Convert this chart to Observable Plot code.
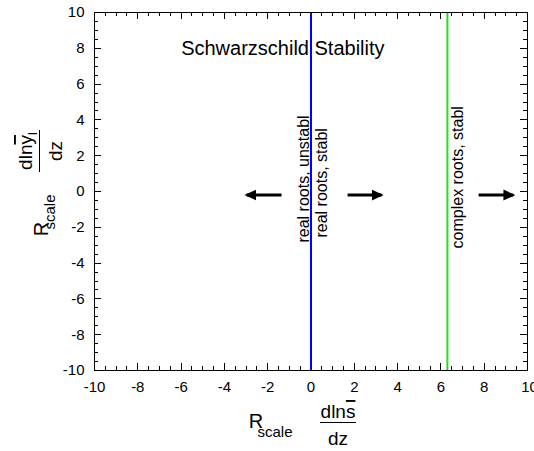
<!DOCTYPE html>
<html><head><meta charset="utf-8">
<script src="https://cdn.jsdelivr.net/npm/d3@7"></script>
<script src="https://cdn.jsdelivr.net/npm/@observablehq/plot@0.6"></script>
<style>
body{margin:0;background:#fff;overflow:hidden;}
#chart svg{display:block;}
</style>
</head><body><div id="chart"></div>
<script>
// ---- data ----
const xDomain = [-10, 10];
const yDomain = [-10, 10];
const majorTicks = [-10, -8, -6, -4, -2, 0, 2, 4, 6, 8, 10];
const minorTicks = d3.range(-10, 10.001, 0.5);
const boundaryX = [0, 6.3];
const boundaryColors = ["#0000ff", "#22dd22"];
const arrowX1 = [-1.36, 1.69, 7.74];
const arrowX2 = [-2.98, 3.26, 9.35];
const arrowY = [-0.2, -0.2, -0.2];
const regionTexts = ["real roots, unstabl", "real roots, stabl", "complex roots, stabl"];
const regionX = [-0.09, 0.72, 7.04];
const regionY = [-2.85, -2.57, -3.18];
const titleText = ["Schwarzschild Stability"];
const titleX = -1.3, titleY = 7.65;

const FONT = "'Liberation Sans', Arial, Helvetica, sans-serif";
const W = 534, H = 451, ML = 94, MR = 7, MT = 12, MB = 81;
const FW = W - ML - MR, FH = H - MT - MB;
const MAJ = 7, MIN = 4;

const filledArrow = (color) => d3.create("svg:marker")
  .attr("viewBox", "0 -6 12 12")
  .attr("markerUnits", "userSpaceOnUse")
  .attr("markerWidth", 12).attr("markerHeight", 12)
  .attr("refX", 10).attr("refY", 0)
  .attr("orient", "auto")
  .call(m => m.append("path").attr("d", "M0,-5.5L12,0L0,5.5Z").attr("fill", color).attr("stroke", "none"))
  .node();

const arrows = arrowX1.map((x1, i) => ({x1, x2: arrowX2[i], y: arrowY[i]}));
const regions = regionTexts.map((t, i) => ({t, x: regionX[i], y: regionY[i]}));
const fmt = d => String(d);
const tk = {stroke: "black", strokeWidth: 1, shapeRendering: "crispEdges"};

const plot = Plot.plot({
  width: W, height: H,
  marginLeft: ML, marginRight: MR, marginTop: MT, marginBottom: MB,
  style: {fontFamily: FONT, fontSize: "15px", background: "white", color: "black", overflow: "visible"},
  x: {domain: xDomain},
  y: {domain: yDomain},
  marks: [
    // inward ticks on all four sides
    Plot.ruleX(minorTicks, {x: d => d, insetTop: FH - MIN, ...tk}),
    Plot.ruleX(minorTicks, {x: d => d, insetBottom: FH - MIN, ...tk}),
    Plot.ruleY(minorTicks, {y: d => d, insetRight: FW - MIN, ...tk}),
    Plot.ruleY(minorTicks, {y: d => d, insetLeft: FW - MIN, ...tk}),
    Plot.ruleX(majorTicks, {x: d => d, insetTop: FH - MAJ, ...tk}),
    Plot.ruleX(majorTicks, {x: d => d, insetBottom: FH - MAJ, ...tk}),
    Plot.ruleY(majorTicks, {y: d => d, insetRight: FW - MAJ, ...tk}),
    Plot.ruleY(majorTicks, {y: d => d, insetLeft: FW - MAJ, ...tk}),
    Plot.axisX(majorTicks.slice(0, -1), {anchor: "bottom", tickSize: 0, tickPadding: 11, tickFormat: fmt, label: null, fontSize: 15}),
    Plot.axisX(majorTicks.slice(-1), {anchor: "bottom", tickSize: 0, tickPadding: 11, tickFormat: fmt, label: null, fontSize: 15, dx: 2}),
    Plot.axisY(majorTicks, {anchor: "left", tickSize: 0, tickPadding: 10, tickFormat: fmt, label: null, fontSize: 15}),
    Plot.ruleX([boundaryX[0]], {x: d => d, y1: yDomain[0], y2: yDomain[1], stroke: boundaryColors[0], strokeWidth: 2}),
    Plot.ruleX([boundaryX[1]], {x: d => d, y1: yDomain[0], y2: yDomain[1], stroke: boundaryColors[1], strokeWidth: 2}),
    Plot.frame({stroke: "black", strokeWidth: 1}),
    Plot.link(arrows, {x1: "x1", x2: "x2", y1: "y", y2: "y", stroke: "black", strokeWidth: 3, markerEnd: filledArrow}),
    Plot.text(regions, {x: "x", y: "y", text: "t", rotate: -90, textAnchor: "start", lineAnchor: "bottom", fontSize: 16, fill: "black"}),
    Plot.text(titleText, {x: titleX, y: titleY, text: d => d, textAnchor: "middle", lineAnchor: "bottom", fontSize: 20, fill: "black"})
  ]
});

const svg = d3.select(plot);
// x axis label: R_scale (dln s̄ / dz)
const xl = svg.append("g").attr("font-family", FONT).attr("fill", "black");
xl.append("text").attr("x", 256).attr("y", 428).attr("font-size", 20).text("R");
xl.append("text").attr("x", 275).attr("y", 437).attr("font-size", 15).text("scale");
const xn = xl.append("text").attr("x", 338).attr("y", 418).attr("font-size", 19).attr("text-anchor", "middle");
xn.append("tspan").text("dln");
xn.append("tspan").attr("text-decoration", "overline").style("text-decoration", "overline").text("s");
xl.append("line").attr("x1", 320).attr("x2", 356).attr("y1", 422.5).attr("y2", 422.5).attr("stroke", "black").attr("stroke-width", 1);
xl.append("text").attr("x", 338).attr("y", 445).attr("font-size", 19).attr("text-anchor", "middle").text("dz");

// y axis label (rotated): R_scale (dln ȳ_l / dz)
const yl = svg.append("g").attr("font-family", FONT).attr("fill", "black").attr("transform", "rotate(-90)");
yl.append("text").attr("x", -229).attr("y", 48).attr("font-size", 20).text("R");
yl.append("text").attr("x", -212).attr("y", 55).attr("font-size", 15).text("scale");
const yn = yl.append("text").attr("x", -151).attr("y", 32).attr("font-size", 19).attr("text-anchor", "middle");
yn.append("tspan").text("dln");
yn.append("tspan").attr("text-decoration", "overline").style("text-decoration", "overline").text("y");
yn.append("tspan").attr("font-size", 13).attr("dy", 5).text("l");
yl.append("line").attr("x1", -172).attr("x2", -130).attr("y1", 39.5).attr("y2", 39.5).attr("stroke", "black").attr("stroke-width", 1);
yl.append("text").attr("x", -151).attr("y", 62).attr("font-size", 19).attr("text-anchor", "middle").text("dz");

document.getElementById("chart").appendChild(plot);
</script>
</body></html>
